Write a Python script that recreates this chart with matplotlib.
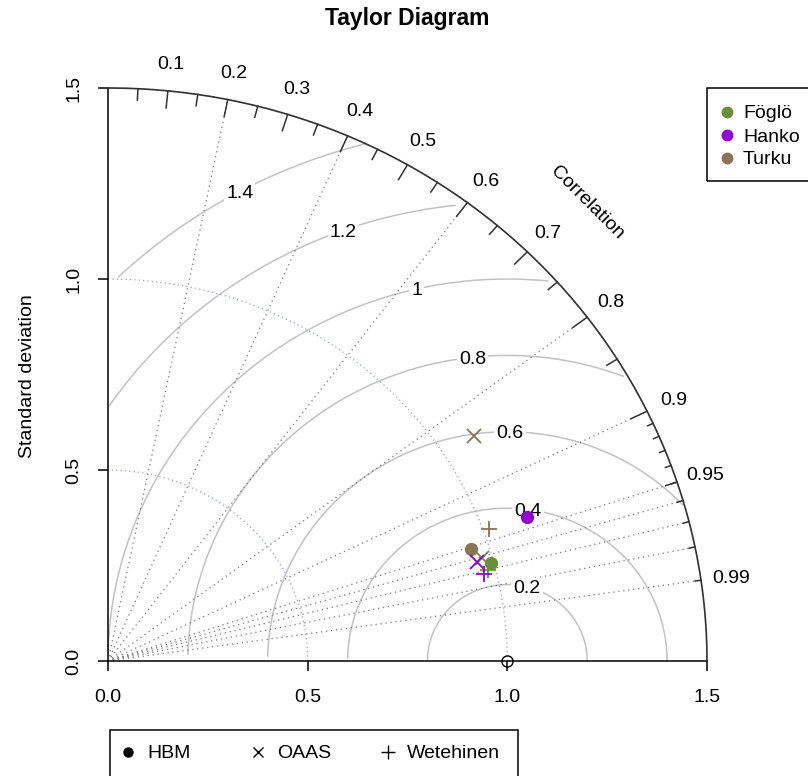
import numpy as np
import matplotlib
matplotlib.use("Agg")
import matplotlib.pyplot as plt
from matplotlib.patches import Rectangle
from matplotlib.lines import Line2D

plt.rcParams["font.family"] = ["Liberation Sans", "DejaVu Sans"]

# ---- data -------------------------------------------------------------
sites = ["Föglö", "Hanko", "Turku"]
site_colors = ["#6B8E3B", "#9400D3", "#8B7355"]

models = ["HBM", "OAAS", "Wetehinen"]
model_markers = ["o", "x", "+"]

# normalised standard deviation and correlation, in site order
sd_hbm = [0.993, 1.115, 0.954]
cor_hbm = [0.966, 0.941, 0.952]
sd_oaas = [0.975, 0.960, 1.090]
cor_oaas = [0.961, 0.963, 0.841]
sd_wet = [0.982, 0.969, 1.015]
cor_wet = [0.970, 0.972, 0.940]

ref_sd = 1.0
max_sd = 1.5
axis_ticks = [0.0, 0.5, 1.0, 1.5]
axis_tick_labels = ["0.0", "0.5", "1.0", "1.5"]
sd_arcs = [0.5, 1.0, 1.5]
gamma_levels = [0.2, 0.4, 0.6, 0.8, 1.0, 1.2, 1.4]
gamma_labels = ["0.2", "0.4", "0.6", "0.8", "1", "1.2", "1.4"]
corr_lines = [0.2, 0.4, 0.6, 0.8, 0.9, 0.95, 0.96, 0.97, 0.98, 0.99]
corr_labels = [0.1, 0.2, 0.3, 0.4, 0.5, 0.6, 0.7, 0.8, 0.9, 0.95, 0.99]
corr_label_text = ["0.1", "0.2", "0.3", "0.4", "0.5", "0.6", "0.7", "0.8",
                   "0.9", "0.95", "0.99"]

W, H = 808, 776
FS = 14

fig = plt.figure(figsize=(W / 100, H / 100), dpi=100)
ax = fig.add_axes([108 / W, (H - 661) / H, 599 / W, 573 / H])
ax.set_xlim(0, max_sd)
ax.set_ylim(0, max_sd)
for s in ax.spines.values():
    s.set_visible(False)

# axes lines and ticks
ax.plot([0, 0], [0, max_sd], color="black", lw=1.1, clip_on=False, zorder=3)
ax.plot([0, max_sd], [0, 0], color="black", lw=1.1, clip_on=False, zorder=3)
ax.set_xticks(axis_ticks)
ax.set_xticklabels(axis_tick_labels)
ax.set_yticks(axis_ticks)
ax.set_yticklabels(axis_tick_labels)
ax.tick_params(axis="both", direction="out", length=7, width=1.1,
               labelsize=FS)
ax.tick_params(axis="x", pad=13)
ax.tick_params(axis="y", pad=11.5, labelrotation=90)
for lab in ax.get_yticklabels():
    lab.set_va("center")

# centred RMS difference arcs around the reference point
theta = np.arange(0, np.pi, 0.03)
label_pos = np.floor(np.linspace(45, 70, len(gamma_levels))).astype(int) - 1
for g, glab, lp in zip(gamma_levels, gamma_labels, label_pos):
    xc = np.cos(theta) * g + ref_sd
    yc = np.sin(theta) * g
    neg = np.where(xc < 0)[0]
    end = neg.min() if len(neg) else len(xc)
    outside = np.where(xc ** 2 + yc ** 2 > max_sd ** 2)[0]
    start = outside.max() + 1 if len(outside) else 0
    ax.plot(xc[start:end], yc[start:end], color="#C2C2C2", lw=1.1,
            clip_on=False, zorder=1)
    if xc[lp] > 0:
        ax.text(xc[lp], yc[lp], glab, fontsize=FS, ha="center",
                va="center_baseline", zorder=2,
                bbox=dict(facecolor="white", edgecolor="none", pad=1.5))

# standard deviation arcs
ang = np.linspace(0, np.pi / 2, 200)
for r in sd_arcs:
    ax.plot(np.cos(ang) * r, np.sin(ang) * r, color="#9494FF", lw=0.9,
            dashes=(1, 2.5), clip_on=False, zorder=1)

# correlation rays
for c in corr_lines:
    ax.plot([0, max_sd * c], [0, max_sd * np.sqrt(1 - c ** 2)],
            color="#777777", lw=0.9, dashes=(1, 3), zorder=1)

# outer arc with correlation ticks
ax.plot(np.cos(ang) * max_sd, np.sin(ang) * max_sd, color="#333333",
        lw=1.2, clip_on=False, zorder=3)


def corr_ticks(values, frac):
    for c in values:
        a = np.arccos(c)
        ax.plot([np.cos(a) * max_sd, np.cos(a) * frac * max_sd],
                [np.sin(a) * max_sd, np.sin(a) * frac * max_sd],
                color="#333333", lw=1.1, clip_on=False, zorder=3)


corr_ticks(np.arange(1, 10) / 10, 0.97)
corr_ticks((np.arange(10) * 10 + 5) / 100, 0.98)
corr_ticks(np.arange(91, 100) / 100, 0.99)

for c, t in zip(corr_labels, corr_label_text):
    a = np.arccos(c)
    ax.text(np.cos(a) * 1.05 * max_sd, np.sin(a) * 1.05 * max_sd, t,
            fontsize=FS, ha="center", va="center_baseline", clip_on=False)
ax.text(0.8 * max_sd, 0.8 * max_sd, "Correlation", fontsize=FS,
        rotation=-45, ha="center", va="center", rotation_mode="anchor")

# reference point
ax.plot([ref_sd], [0], marker="o", ms=8, mfc="none", mec="black",
        mew=1.0, ls="none", clip_on=False, zorder=4)

# model points
marker_style = {"o": dict(ms=8.5, mew=1.0), "x": dict(ms=10, mew=1.3),
                "+": dict(ms=12, mew=1.3)}
for sds, cors, mk in zip([sd_hbm, sd_oaas, sd_wet],
                         [cor_hbm, cor_oaas, cor_wet], model_markers):
    sds = np.array(sds)
    cors = np.array(cors)
    xs = sds * cors
    ys = sds * np.sqrt(1 - cors ** 2)
    for x, y, col in zip(xs, ys, site_colors):
        ax.plot([x], [y], marker=mk, color=col, ls="none", zorder=5,
                **marker_style[mk])

# title and axis label
fig.text(407.5 / W, 1 - 18 / H, "Taylor Diagram", fontsize=16.5,
         fontweight="bold", ha="center", va="center")
fig.text(28 / W, 1 - 376 / H, "Standard deviation", fontsize=FS,
         rotation=90, ha="center", va="center")


def fx(px):
    return px / W


def fy(py):
    return 1 - py / H


# site legend (top right)
fig.add_artist(Rectangle((fx(707), fy(181)), fx(840) - fx(707),
                         fy(88) - fy(181), transform=fig.transFigure,
                         fill=False, ec="black", lw=1.1))
for i, (name, col) in enumerate(zip(sites, site_colors)):
    yy = 112 + 23 * i
    fig.add_artist(Line2D([fx(727)], [fy(yy)], marker="o", ms=7.5,
                          color=col, ls="none", transform=fig.transFigure))
    fig.text(fx(743), fy(yy), name, fontsize=FS, ha="left",
             va="center_baseline")

# model legend (bottom)
fig.add_artist(Rectangle((fx(110), fy(800)), fx(518) - fx(110),
                         fy(730) - fy(800), transform=fig.transFigure,
                         fill=False, ec="black", lw=1.1))
leg_marker_x = [128, 258, 388]
leg_text_x = [147, 277, 407]
leg_ms = {"o": dict(ms=6.5, mew=1.0), "x": dict(ms=7.5, mew=1.0),
          "+": dict(ms=10, mew=1.0)}
for name, mk, mx, tx in zip(models, model_markers, leg_marker_x, leg_text_x):
    fig.add_artist(Line2D([fx(mx)], [fy(752)], marker=mk, color="black",
                          ls="none", transform=fig.transFigure, **leg_ms[mk]))
    fig.text(fx(tx), fy(752), name, fontsize=FS, ha="left",
             va="center_baseline")

fig.savefig("out.png", dpi=100)
